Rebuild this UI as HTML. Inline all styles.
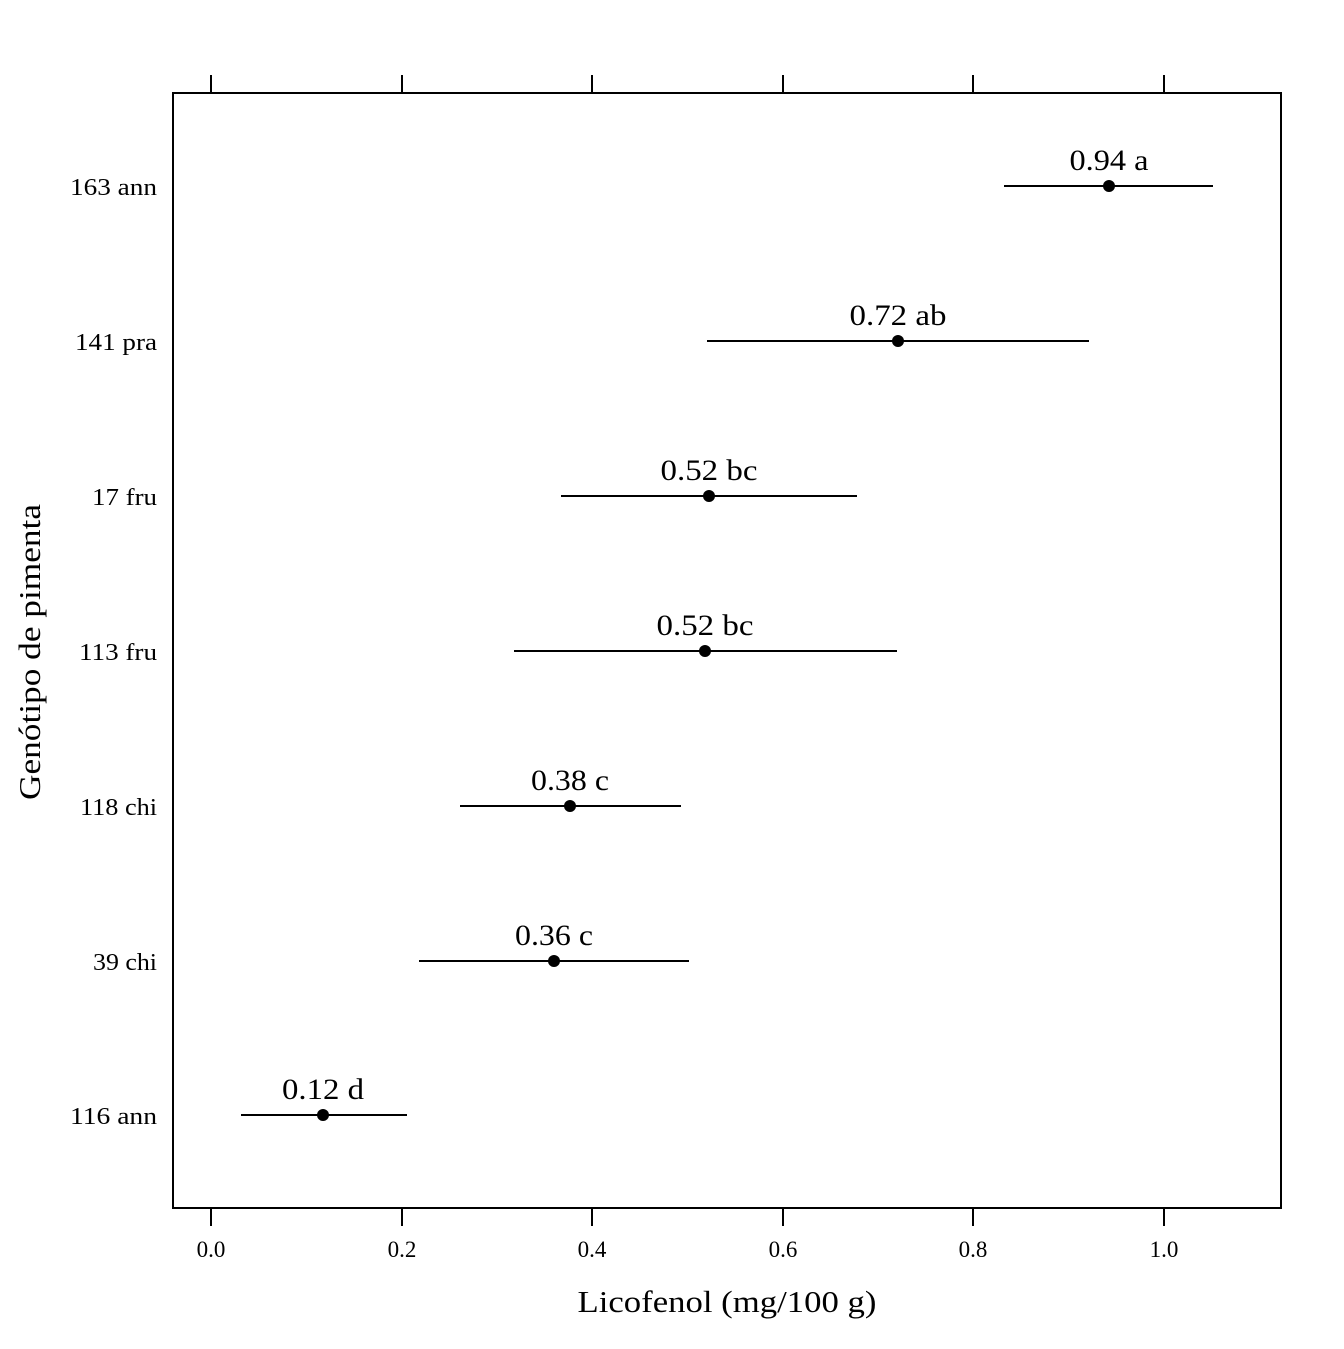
<!DOCTYPE html>
<html><head><meta charset="utf-8"><style>body{margin:0;background:#fff}</style></head><body>
<svg width="1344" height="1344" xmlns="http://www.w3.org/2000/svg" font-family="Liberation Serif, serif" fill="#000">
<rect x="173" y="93" width="1108" height="1115" fill="none" stroke="#000" stroke-width="2"/>
<g stroke="#000" stroke-width="2">
<line x1="211" y1="75" x2="211" y2="93"/><line x1="402" y1="75" x2="402" y2="93"/><line x1="592" y1="75" x2="592" y2="93"/><line x1="783" y1="75" x2="783" y2="93"/><line x1="973" y1="75" x2="973" y2="93"/><line x1="1164" y1="75" x2="1164" y2="93"/>
<line x1="211" y1="1208" x2="211" y2="1226"/><line x1="402" y1="1208" x2="402" y2="1226"/><line x1="592" y1="1208" x2="592" y2="1226"/><line x1="783" y1="1208" x2="783" y2="1226"/><line x1="973" y1="1208" x2="973" y2="1226"/><line x1="1164" y1="1208" x2="1164" y2="1226"/>
<line x1="1004" y1="186" x2="1213" y2="186"/>
<line x1="707" y1="341" x2="1089" y2="341"/>
<line x1="561" y1="496" x2="857" y2="496"/>
<line x1="514" y1="651" x2="897" y2="651"/>
<line x1="460" y1="806" x2="681" y2="806"/>
<line x1="419" y1="961" x2="689" y2="961"/>
<line x1="241" y1="1115" x2="407" y2="1115"/>
</g>
<g>
<circle cx="1109" cy="186" r="6"/><circle cx="898" cy="341" r="6"/><circle cx="709" cy="496" r="6"/><circle cx="705" cy="651" r="6"/><circle cx="570" cy="806" r="6"/><circle cx="554" cy="961" r="6"/><circle cx="323" cy="1115" r="6"/>
</g>
<g font-size="30" text-anchor="middle" lengthAdjust="spacingAndGlyphs">
<text x="1109" y="170" textLength="79" lengthAdjust="spacingAndGlyphs">0.94 a</text>
<text x="898" y="325" textLength="97" lengthAdjust="spacingAndGlyphs">0.72 ab</text>
<text x="709" y="480" textLength="97" lengthAdjust="spacingAndGlyphs">0.52 bc</text>
<text x="705" y="635" textLength="97" lengthAdjust="spacingAndGlyphs">0.52 bc</text>
<text x="570" y="790" textLength="78" lengthAdjust="spacingAndGlyphs">0.38 c</text>
<text x="554" y="945" textLength="78" lengthAdjust="spacingAndGlyphs">0.36 c</text>
<text x="323" y="1099" textLength="82" lengthAdjust="spacingAndGlyphs">0.12 d</text>
</g>
<g font-size="23" text-anchor="middle">
<text x="211" y="1257">0.0</text><text x="402" y="1257">0.2</text><text x="592" y="1257">0.4</text><text x="783" y="1257">0.6</text><text x="973" y="1257">0.8</text><text x="1164" y="1257">1.0</text>
</g>
<g font-size="24" text-anchor="end">
<text x="157" y="195" textLength="87" lengthAdjust="spacingAndGlyphs">163 ann</text>
<text x="157" y="350" textLength="82" lengthAdjust="spacingAndGlyphs">141 pra</text>
<text x="157" y="505" textLength="65" lengthAdjust="spacingAndGlyphs">17 fru</text>
<text x="157" y="660" textLength="78" lengthAdjust="spacingAndGlyphs">113 fru</text>
<text x="157" y="815" textLength="77" lengthAdjust="spacingAndGlyphs">118 chi</text>
<text x="157" y="970" textLength="64" lengthAdjust="spacingAndGlyphs">39 chi</text>
<text x="157" y="1124" textLength="87" lengthAdjust="spacingAndGlyphs">116 ann</text>
</g>
<text x="727" y="1312" font-size="31" text-anchor="middle" textLength="299" lengthAdjust="spacingAndGlyphs">Licofenol (mg/100 g)</text>
<text transform="translate(40,652) rotate(-90)" font-size="31" text-anchor="middle" textLength="296" lengthAdjust="spacingAndGlyphs">Genótipo de pimenta</text>
</svg>
</body></html>
